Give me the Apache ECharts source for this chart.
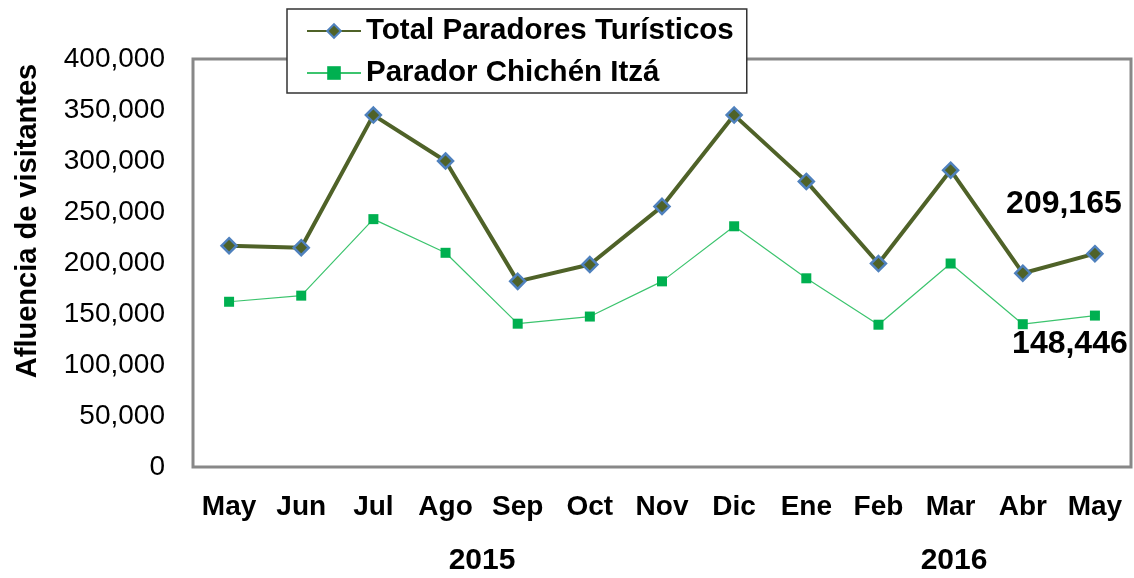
<!DOCTYPE html>
<html>
<head>
<meta charset="utf-8">
<script src="https://cdn.jsdelivr.net/npm/echarts@6/dist/echarts.min.js"></script>
<style>
  html, body { margin: 0; padding: 0; background: #fff; }
  #chart { width: 1134px; height: 578px; }
</style>
</head>
<body>
<div id="chart"></div>
<script>
var months = ['May', 'Jun', 'Jul', 'Ago', 'Sep', 'Oct', 'Nov', 'Dic', 'Ene', 'Feb', 'Mar', 'Abr', 'May'];
var totalParadores = [217000, 215000, 345000, 300000, 182000, 198500, 255500, 345000, 280000, 199500, 291000, 190000, 209165];
var paradorChichen = [162000, 168000, 243000, 210000, 140500, 147500, 182000, 236000, 185000, 139500, 199500, 140000, 148446];
var yearLabels = ['2015', '2016'];

var font = 'Liberation Sans, Arial, sans-serif';
var chart = echarts.init(document.getElementById('chart'));

// only the last point of each series carries a value label
function lastLabel(p) {
  return p.dataIndex === months.length - 1 ? p.value.toLocaleString('en-US') : '';
}

chart.setOption({
  animation: false,
  textStyle: { fontFamily: font },
  grid: {
    left: 193, right: 3, top: 59, bottom: 111,
    show: true, borderColor: '#888', borderWidth: 3, backgroundColor: '#fff'
  },
  legend: {
    orient: 'vertical',
    left: 287, top: 9,
    backgroundColor: '#fff',
    borderColor: '#333', borderWidth: 1.5,
    padding: [5, 13, 3, 19],
    itemGap: 8,
    itemWidth: 54, itemHeight: 17,
    textStyle: { fontSize: 29.5, lineHeight: 34, fontWeight: 'bold', color: '#000', fontFamily: font },
    data: ['Total Paradores Turísticos', 'Parador Chichén Itzá']
  },
  xAxis: {
    type: 'category',
    data: months,
    boundaryGap: true,
    axisLine: { show: false },
    axisTick: { show: false },
    axisLabel: { fontSize: 28, fontWeight: 'bold', color: '#000', margin: 26, fontFamily: font }
  },
  yAxis: {
    type: 'value',
    min: 0, max: 400000, interval: 50000,
    splitLine: { show: false },
    axisLine: { show: false },
    axisTick: { show: false },
    axisLabel: {
      fontSize: 28, color: '#000', margin: 28, fontFamily: font,
      formatter: function (v) { return v.toLocaleString('en-US'); }
    }
  },
  series: [
    {
      name: 'Total Paradores Turísticos',
      type: 'line',
      data: totalParadores,
      lineStyle: { color: '#4F6228', width: 4 },
      symbol: 'diamond',
      symbolSize: 15,
      itemStyle: { color: '#4F6228', borderColor: '#4F81BD', borderWidth: 2.5 },
      label: {
        show: true, position: 'top', offset: [-31, -20],
        fontSize: 32, fontWeight: 'bold', color: '#000', fontFamily: font,
        formatter: lastLabel
      },
      z: 3
    },
    {
      name: 'Parador Chichén Itzá',
      type: 'line',
      data: paradorChichen,
      lineStyle: { color: '#3CC46E', width: 1.2 },
      symbol: 'rect',
      symbolSize: 10,
      itemStyle: { color: '#00B050', borderWidth: 0 },
      label: {
        show: true, position: 'bottom', offset: [-25, 3],
        fontSize: 32, fontWeight: 'bold', color: '#000', fontFamily: font,
        formatter: lastLabel
      },
      z: 2
    }
  ],
  graphic: [
    {
      type: 'text', x: 28, y: 221, rotation: Math.PI / 2,
      style: {
        text: 'Afluencia de visitantes', font: 'bold 29px ' + font, fill: '#000',
        align: 'center', verticalAlign: 'middle'
      }
    },
    {
      type: 'text', x: 482, y: 561,
      style: { text: yearLabels[0], font: 'bold 30px ' + font, fill: '#000', align: 'center', verticalAlign: 'middle' }
    },
    {
      type: 'text', x: 954, y: 561,
      style: { text: yearLabels[1], font: 'bold 30px ' + font, fill: '#000', align: 'center', verticalAlign: 'middle' }
    }
  ]
});
</script>
</body>
</html>
